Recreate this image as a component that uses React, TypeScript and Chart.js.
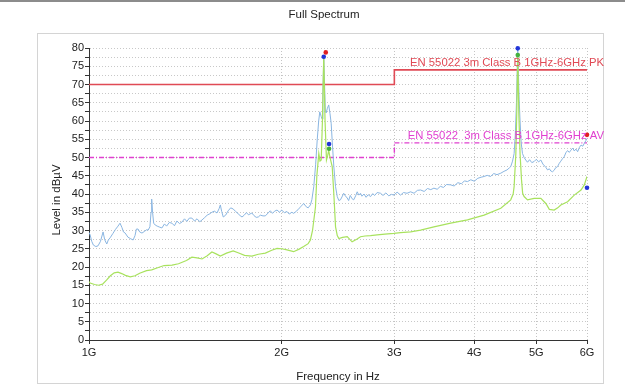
import React, { useEffect, useRef } from 'react';
import { Chart, registerables } from 'chart.js';

Chart.register(...registerables);

// ---- data (frequency in GHz, level in dBµV) ----
const chartTitle = 'Full Spectrum';
const xAxisTitle = 'Frequency in Hz';
const yAxisTitle = 'Level in dBµV';
const xTicksGHz = [1, 2, 3, 4, 5, 6];
const yRange = [0, 80];
const limitPkLabel = 'EN 55022 3m Class B 1GHz-6GHz PK';
const limitAvLabel = 'EN 55022  3m Class B 1GHz-6GHz AV';

const limitPk: [number, number][] = [[1, 70], [3, 70], [3, 74], [6, 74]];
const limitAv: [number, number][] = [[1, 50], [3, 50], [3, 54], [6, 54]];

const peakTrace: [number, number][] = [
  [1.0, 29.5], [1.004, 28.8], [1.01, 27], [1.016, 26], [1.025, 25.6], [1.033, 25.8], [1.042, 27], [1.052, 29.6],
  [1.058, 27.5], [1.066, 26.3], [1.072, 27.4], [1.079, 28], [1.09, 29.2], [1.1, 30.3], [1.11, 31.2], [1.118, 32],
  [1.126, 30.8], [1.132, 29.6], [1.139, 29.3], [1.15, 28.2], [1.16, 27.8], [1.172, 27.4], [1.18, 28.6], [1.186, 30.4],
  [1.193, 30.4], [1.2, 29.6], [1.21, 29.3], [1.222, 29.8], [1.23, 30.2], [1.237, 30.1], [1.245, 31], [1.25, 35],
  [1.253, 38.6], [1.257, 35], [1.262, 32], [1.269, 31.5], [1.278, 31.2], [1.29, 30.9], [1.3, 30.7], [1.312, 31.8],
  [1.322, 31.2], [1.335, 32.2], [1.348, 32], [1.36, 31.3], [1.372, 32.6], [1.385, 31.9], [1.397, 32.3], [1.41, 33.2],
  [1.422, 32.5], [1.435, 33.4], [1.448, 33.4], [1.462, 32.6], [1.475, 33.2], [1.49, 32.4], [1.502, 32.9], [1.515, 33.5],
  [1.53, 34.2], [1.545, 34.6], [1.556, 35], [1.57, 35.3], [1.585, 34.8], [1.597, 36], [1.604, 37], [1.612, 35.2],
  [1.621, 33.7], [1.635, 34.2], [1.65, 35.4], [1.665, 36.2], [1.68, 35.9], [1.695, 35.2], [1.71, 34.6], [1.722, 34.1],
  [1.734, 33.7], [1.748, 34.2], [1.762, 34.9], [1.775, 34.3], [1.797, 34.8], [1.81, 34.1], [1.825, 33.6], [1.839, 33.7],
  [1.852, 34.2], [1.87, 34], [1.886, 34], [1.905, 34.8], [1.92, 35.4], [1.935, 34.7], [1.95, 35.3], [1.967, 35.6],
  [1.985, 35], [2.0, 35.6], [2.02, 34.9], [2.039, 35.2], [2.055, 34.5], [2.075, 35], [2.088, 34.7], [2.11, 35.3],
  [2.13, 36.1], [2.15, 36.8], [2.165, 37.4], [2.185, 36.5], [2.2, 36.2], [2.218, 37], [2.23, 38.5], [2.245, 42],
  [2.26, 48], [2.273, 54.8], [2.285, 60], [2.294, 62.5], [2.306, 61.2], [2.314, 60.5], [2.32, 68], [2.327, 77.6],
  [2.334, 70], [2.34, 63], [2.347, 62.2], [2.358, 63.5], [2.369, 64.4], [2.38, 62], [2.39, 59.4], [2.4, 54],
  [2.413, 47.5], [2.428, 42], [2.443, 39.3], [2.457, 38.2], [2.471, 38.4], [2.485, 39.2], [2.5, 40.2], [2.515, 39.5],
  [2.532, 38.9], [2.545, 38.2], [2.56, 39.6], [2.577, 38.7], [2.592, 38.4], [2.61, 39.5], [2.625, 40.6], [2.64, 39.7],
  [2.656, 40.2], [2.67, 39.4], [2.69, 40], [2.71, 39.1], [2.73, 39.8], [2.754, 39.3], [2.775, 40.1], [2.795, 39.6],
  [2.82, 40.4], [2.855, 40.2], [2.88, 39.6], [2.91, 40.3], [2.94, 39.5], [2.97, 39.9], [2.995, 39.7], [3.03, 40.5],
  [3.068, 39.7], [3.1, 40.4], [3.14, 40.2], [3.181, 40.6], [3.22, 40.2], [3.26, 41], [3.297, 41.1], [3.34, 40.7],
  [3.38, 41.5], [3.42, 41.2], [3.459, 41.6], [3.5, 41.3], [3.54, 42.1], [3.58, 41.8], [3.62, 42.6], [3.674, 42.5],
  [3.72, 42.2], [3.77, 43.1], [3.82, 42.8], [3.86, 43.6], [3.903, 43.4], [3.95, 43.9], [4.0, 43.5], [4.05, 44.3],
  [4.1, 44.6], [4.143, 44.8], [4.19, 45.1], [4.24, 44.8], [4.29, 45.6], [4.34, 45.3], [4.4, 45.7], [4.45, 46.2],
  [4.5, 46.6], [4.54, 47.2], [4.56, 47.5], [4.59, 49], [4.616, 51.1], [4.635, 56], [4.655, 65], [4.677, 80],
  [4.7, 66], [4.716, 60], [4.735, 54], [4.757, 51.1], [4.785, 50], [4.814, 49.3], [4.844, 48.7], [4.88, 49.4],
  [4.92, 48.6], [4.961, 48.9], [5.0, 49.5], [5.04, 48.8], [5.082, 49.3], [5.12, 48.2], [5.174, 47.3], [5.206, 46.6],
  [5.24, 46.9], [5.268, 46.3], [5.3, 46.1], [5.331, 46.5], [5.36, 47.2], [5.397, 47.5], [5.43, 48.4], [5.461, 49],
  [5.495, 49.7], [5.527, 50.2], [5.56, 51.3], [5.595, 51.9], [5.63, 51.4], [5.662, 52], [5.7, 52.6], [5.731, 51.8],
  [5.765, 52.3], [5.801, 51.6], [5.84, 52.8], [5.872, 53.4], [5.91, 53.1], [5.942, 53.9], [5.975, 54.6], [6.0, 55.2],
];

const avgTrace: [number, number][] = [
  [1.0, 16], [1.004, 15.6], [1.02, 15.2], [1.035, 15], [1.05, 15.3], [1.065, 16.4], [1.08, 17.6], [1.095, 18.4],
  [1.11, 18.6], [1.125, 18.2], [1.14, 17.7], [1.16, 17.3], [1.18, 17.6], [1.2, 18.3], [1.23, 19], [1.253, 19.2],
  [1.28, 19.8], [1.31, 20.4], [1.348, 20.5], [1.38, 20.9], [1.42, 21.8], [1.448, 22.7], [1.475, 22.5], [1.502, 22.2],
  [1.53, 23.1], [1.556, 24.1], [1.58, 23.6], [1.604, 23], [1.64, 23.8], [1.68, 24.4], [1.71, 23.9], [1.75, 23.2],
  [1.797, 23], [1.839, 23.5], [1.886, 23.8], [1.93, 24.6], [1.967, 25.1], [2.0, 25], [2.039, 24.7], [2.088, 24.2],
  [2.13, 24.9], [2.165, 25.6], [2.2, 26.4], [2.218, 27.4], [2.235, 30], [2.259, 36.5], [2.27, 45], [2.286, 51.1],
  [2.296, 49], [2.306, 49.3], [2.316, 60], [2.327, 77.6], [2.338, 60], [2.35, 49.3], [2.36, 50.5], [2.369, 52],
  [2.38, 50], [2.399, 47.5], [2.413, 40], [2.428, 31], [2.443, 28.6], [2.457, 27.8], [2.49, 28.1], [2.532, 28.3],
  [2.577, 26.9], [2.62, 27.6], [2.656, 28.3], [2.7, 28.5], [2.754, 28.6], [2.82, 28.8], [2.9, 29], [2.995, 29.2],
  [3.068, 29.4], [3.181, 29.6], [3.297, 30.1], [3.459, 31], [3.674, 32], [3.903, 32.9], [4.143, 34.2], [4.4, 36.1],
  [4.56, 38.4], [4.6, 40], [4.616, 42], [4.645, 51], [4.66, 62], [4.677, 78], [4.695, 62], [4.716, 51],
  [4.74, 44], [4.76, 40.2], [4.785, 39.3], [4.844, 38.4], [4.961, 38.8], [5.082, 38.8], [5.174, 37.4], [5.24, 35.8],
  [5.331, 35.6], [5.4, 36.2], [5.461, 37], [5.595, 37.9], [5.731, 39.7], [5.872, 41.1], [5.942, 42.5], [6.0, 44.8],
];

const markersRed: [number, number][] = [[2.344, 78.8], [6.0, 56.2]];
const markersBlue: [number, number][] = [[2.327, 77.6], [2.372, 53.7], [4.677, 79.9], [6.0, 41.7]];
const markersGreen: [number, number][] = [[2.372, 52.4], [4.677, 78.1]];

const toXY = (arr: [number, number][]) => arr.map(([f, v]) => ({ x: f * 1e9, y: v }));

const FONT = '"Liberation Sans", Arial, sans-serif';
const AV_COLOR = '#e040d0';
const PK_COLOR = '#e04a55';

export default function App() {
  const ref = useRef<HTMLCanvasElement | null>(null);

  useEffect(() => {
    if (!ref.current) return;

    const decor = {
      id: 'decor',
      beforeDraw(chart: any) {
        const ctx = chart.ctx;
        ctx.save();
        ctx.fillStyle = '#ffffff';
        ctx.fillRect(0, 0, chart.width, chart.height);
        ctx.fillStyle = '#8c8c8c';
        ctx.fillRect(0, 0, chart.width, 2);
        ctx.strokeStyle = '#d4d4d4';
        ctx.lineWidth = 1;
        ctx.strokeRect(37.5, 33.5, 566, 350);
        ctx.restore();
      },
      afterDraw(chart: any) {
        const ctx = chart.ctx;
        const ys = chart.scales.y;
        const area = chart.chartArea;
        ctx.save();
        ctx.fillStyle = '#222222';
        ctx.font = `11.5px ${FONT}`;
        ctx.textAlign = 'center';
        ctx.textBaseline = 'middle';
        ctx.fillText(chartTitle, 324, 15);
        ctx.fillText(xAxisTitle, (area.left + area.right) / 2, 377);
        ctx.save();
        ctx.translate(57, 200);
        ctx.rotate(-Math.PI / 2);
        ctx.fillText(yAxisTitle, 0, 0);
        ctx.restore();
        ctx.textAlign = 'right';
        ctx.textBaseline = 'bottom';
        ctx.font = `11.3px ${FONT}`;
        ctx.fillStyle = PK_COLOR;
        ctx.fillText(limitPkLabel, area.right + 17, ys.getPixelForValue(limitPk[3][1]) - 1.5);
        ctx.fillStyle = AV_COLOR;
        ctx.fillText(limitAvLabel, area.right + 17, ys.getPixelForValue(limitAv[3][1]) - 1);
        ctx.restore();
      },
    };

    const chart = new Chart(ref.current, {
      type: 'line',
      data: {
        datasets: [
          {
            label: 'markers red', data: toXY(markersRed), showLine: false, pointRadius: 2.3,
            pointBackgroundColor: '#e02020', pointBorderColor: '#e02020', pointBorderWidth: 0, order: 0, clip: false,
          } as any,
          {
            label: 'markers blue', data: toXY(markersBlue), showLine: false, pointRadius: 2.3,
            pointBackgroundColor: '#2236d8', pointBorderColor: '#2236d8', pointBorderWidth: 0, order: 0, clip: false,
          } as any,
          {
            label: 'markers green', data: toXY(markersGreen), showLine: false, pointRadius: 2.3,
            pointBackgroundColor: '#44b040', pointBorderColor: '#44b040', pointBorderWidth: 0, order: 0, clip: false,
          } as any,
          {
            label: 'AV', data: toXY(avgTrace), borderColor: '#a8e25e', borderWidth: 1.2, pointRadius: 0, tension: 0, order: 1,
          },
          {
            label: 'PK', data: toXY(peakTrace), borderColor: '#8ab6e2', borderWidth: 1, pointRadius: 0, tension: 0, order: 2,
          },
          {
            label: 'Limit PK', data: toXY(limitPk), borderColor: PK_COLOR, backgroundColor: PK_COLOR, borderWidth: 1.6,
            pointRadius: 0, tension: 0, order: 3,
          },
          {
            label: 'Limit AV', data: toXY(limitAv), borderColor: AV_COLOR, backgroundColor: AV_COLOR, borderWidth: 1.4,
            borderDash: [5, 2, 1, 2], pointRadius: 0, tension: 0, order: 3,
          },
        ],
      },
      options: {
        responsive: false,
        animation: false,
        devicePixelRatio: 1,
        layout: { padding: { top: 48, left: 0, right: 38, bottom: 0 } },
        plugins: { legend: { display: false }, title: { display: false }, tooltip: { enabled: false } },
        scales: {
          x: {
            type: 'logarithmic',
            min: xTicksGHz[0] * 1e9,
            max: xTicksGHz[xTicksGHz.length - 1] * 1e9,
            afterBuildTicks: (scale: any) => {
              scale.ticks = xTicksGHz.map((v) => ({ value: v * 1e9 }));
            },
            afterFit: (scale: any) => { scale.height = 47; },
            ticks: {
              autoSkip: false, maxRotation: 0, minRotation: 0, padding: 2,
              color: '#222222', font: { family: FONT, size: 11 },
              callback: (v: any) => `${Math.round(Number(v) / 1e9)}G`,
            },
            grid: { color: '#c4c4c4', lineWidth: 1, tickLength: 4, tickColor: '#333333', tickWidth: 1 },
            border: { display: true, color: '#333333', width: 1, dash: [1, 2] },
          } as any,
          y: {
            type: 'linear',
            min: yRange[0],
            max: yRange[1],
            afterFit: (scale: any) => { scale.width = 89; },
            ticks: {
              stepSize: 2.5, autoSkip: false, padding: 1,
              color: '#222222', font: { family: FONT, size: 11 },
              callback: (v: any) => (Number(v) % 5 === 0 ? String(v) : ''),
            },
            grid: { color: '#c8c8c8', lineWidth: 1, tickLength: 4, tickColor: '#333333', tickWidth: 1 },
            border: { display: true, color: '#333333', width: 1, dash: [1, 2] },
          } as any,
        },
      },
      plugins: [decor],
    });

    return () => chart.destroy();
  }, []);

  return (
    <div style={{ position: 'fixed', left: 0, top: 0, width: 625, height: 387, background: '#fff' }}>
      <canvas ref={ref} width={625} height={387} style={{ display: 'block' }} />
    </div>
  );
}
